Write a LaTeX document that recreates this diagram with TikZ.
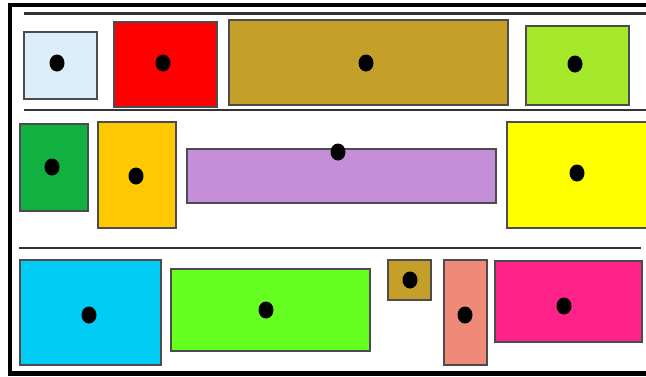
\documentclass[tikz,border=0pt]{standalone}
\usetikzlibrary{
  shapes.geometric,
  fit
}

\definecolor{skyfill}{RGB}{220,238,250}
\definecolor{redfill}{RGB}{255,0,0}
\definecolor{olivefill}{RGB}{196,160,42}
\definecolor{limefill}{RGB}{166,232,42}
\definecolor{leaffill}{RGB}{18,176,64}
\definecolor{amberfill}{RGB}{255,200,0}
\definecolor{lilacfill}{RGB}{196,143,216}
\definecolor{lemonfill}{RGB}{255,255,0}
\definecolor{cyanfill}{RGB}{0,204,245}
\definecolor{grassfill}{RGB}{102,255,34}
\definecolor{salmonfill}{RGB}{240,138,120}
\definecolor{pinkfill}{RGB}{255,34,136}

\begin{document}
\begin{tikzpicture}[
  x = 1pt, y = -1pt,
  % ── Coloured block ──────────────────────────────────────
  block/.style={
    rectangle,
    draw       = black!70,
    line width = 1.6pt,
    inner sep  = 0pt
  },
  % ── Black dot ───────────────────────────────────────────
  blob/.style={
    ellipse,
    fill           = black,
    inner sep      = 0pt,
    minimum width  = 15pt,
    minimum height = 17pt
  },
  % ── Shelf rule ──────────────────────────────────────────
  shelf/.style={
    draw       = black!80,
    line width = 2.6pt
  }
]
\useasboundingbox (0,0) rectangle (646,376);

% ── Frame ──────────────────────────────────────────────────
\draw[line width=4.5pt] (652,5) -- (10,5) -- (10,373.5) -- (652,373.5);

% ── Shelves ────────────────────────────────────────────────
\draw[shelf] (24,13.5) -- (652,13.5);
\draw[shelf] (24,110)  -- (652,110);
\draw[shelf] (19,248)  -- (641,248);

% ── Blocks and dots ────────────────────────────────────────
\foreach \n/\xa/\ya/\xb/\yb/\c/\dx/\dy in {
    sky/24/32/97/99/skyfill/57/63,
    red/114/22/217/107/redfill/163/63,
    olive/229/20/508/105/olivefill/366/63,
    lime/526/26/629/105/limefill/575/64,
    leaf/20/124/88/211/leaffill/52/167,
    amber/98/122/176/228/amberfill/136/176,
    lilac/187/149/496/203/lilacfill/338/152,
    lemon/507/122/655/228/lemonfill/577/173,
    cyan/20/260/161/365/cyanfill/89/315,
    grass/171/269/370/351/grassfill/266/310,
    nugget/388/260/431/300/olivefill/410/280,
    salmon/444/260/487/365/salmonfill/465/315,
    pink/495/261/642/342/pinkfill/564/306}
{
  \node[block, fill=\c, fit={(\xa,\ya)(\xb,\yb)}] (\n) {};
  \node[blob] (\n-dot) at (\dx,\dy) {};
}

\end{tikzpicture}
\end{document}
